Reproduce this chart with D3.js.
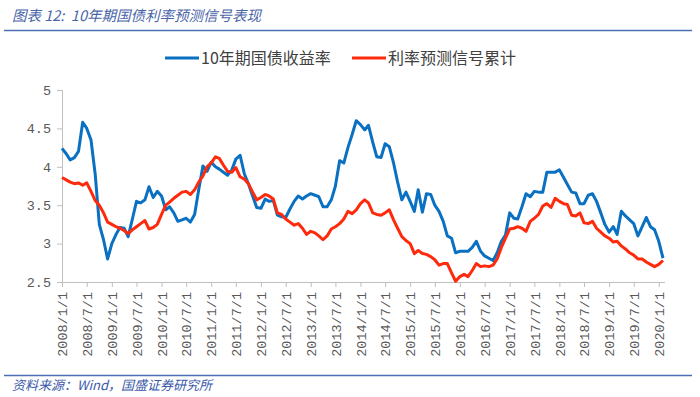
<!DOCTYPE html>
<html>
<head>
<meta charset="utf-8">
<script src="https://cdn.jsdelivr.net/npm/d3@7"></script>
<style>
  body { margin: 0; background: #fff; }
  svg { font-family: "Noto Sans CJK SC", "Noto Sans", sans-serif; }
  .axis text { font-family: "Liberation Mono", monospace; font-size: 13.5px; fill: #595959; }
</style>
</head>
<body>
<svg id="chart" width="700" height="397"></svg>
<script>
// 月度数据 2008/1 - 2020/2
const months = d3.timeMonth.range(new Date(2008, 0, 1), new Date(2020, 2, 1));

const bondYield = [
  4.24, 4.17, 4.09, 4.12, 4.20, 4.58, 4.50, 4.35, 3.90, 3.25, 3.05, 2.80,
  3.00, 3.12, 3.21, 3.20, 3.09, 3.32, 3.55, 3.53, 3.57, 3.74, 3.60, 3.68,
  3.62, 3.44, 3.48, 3.40, 3.29, 3.31, 3.33, 3.28, 3.38, 3.70, 4.01, 3.94,
  4.06, 4.00, 3.97, 3.93, 3.89, 3.96, 4.10, 4.15, 3.91, 3.78, 3.62, 3.47,
  3.46, 3.58, 3.55, 3.56, 3.37, 3.35, 3.34, 3.45, 3.55, 3.62, 3.58, 3.62,
  3.65, 3.63, 3.61, 3.48, 3.48, 3.57, 3.75, 4.08, 4.05, 4.25, 4.42, 4.60,
  4.55, 4.48, 4.54, 4.32, 4.13, 4.12, 4.30, 4.26, 4.05, 3.80, 3.57, 3.67,
  3.55, 3.42, 3.70, 3.41, 3.65, 3.64, 3.50, 3.42, 3.29, 3.10, 3.07, 2.88,
  2.90, 2.90, 2.90, 2.95, 3.03, 2.90, 2.84, 2.81, 2.78, 2.88, 3.03, 3.11,
  3.40, 3.33, 3.32, 3.48, 3.65, 3.61, 3.68, 3.67, 3.67, 3.93, 3.93, 3.93,
  3.96, 3.86, 3.77, 3.67, 3.66, 3.52, 3.52, 3.63, 3.65, 3.55, 3.40, 3.25,
  3.15, 3.22, 3.12, 3.42, 3.36, 3.31, 3.26, 3.10, 3.22, 3.34, 3.22, 3.18,
  3.03, 2.81
];

const signalCum = [
  3.86, 3.83, 3.80, 3.78, 3.79, 3.76, 3.79, 3.68, 3.56, 3.50, 3.40, 3.28,
  3.25, 3.22, 3.20, 3.17, 3.13, 3.18, 3.22, 3.26, 3.30, 3.19, 3.21, 3.25,
  3.38, 3.50, 3.54, 3.59, 3.63, 3.67, 3.68, 3.64, 3.70, 3.80, 3.88, 4.00,
  4.05, 4.13, 4.11, 4.02, 3.94, 3.93, 3.99, 3.87, 3.84, 3.78, 3.67, 3.57,
  3.60, 3.64, 3.62, 3.58, 3.40, 3.38, 3.32, 3.28, 3.24, 3.26, 3.20, 3.12,
  3.16, 3.14, 3.10, 3.05, 3.10, 3.19, 3.22, 3.26, 3.32, 3.42, 3.39, 3.44,
  3.52, 3.57, 3.53, 3.40, 3.38, 3.37, 3.40, 3.44, 3.31, 3.20, 3.09, 3.04,
  3.00, 2.87, 2.91, 2.87, 2.86, 2.83, 2.79, 2.72, 2.74, 2.74, 2.62, 2.51,
  2.57, 2.60, 2.57, 2.65, 2.74, 2.70, 2.71, 2.70, 2.72, 2.80, 2.95, 3.07,
  3.19, 3.20, 3.22, 3.20, 3.16, 3.29, 3.33, 3.38, 3.49, 3.52, 3.47, 3.59,
  3.55, 3.52, 3.51, 3.37, 3.36, 3.40, 3.27, 3.26, 3.29, 3.20, 3.15, 3.10,
  3.07, 3.02, 3.03, 2.97, 2.93, 2.88, 2.85, 2.80, 2.80, 2.76, 2.73, 2.70,
  2.73, 2.78
];

const yTicks = [2.5, 3, 3.5, 4, 4.5, 5];
const seriesNames = ["10年期国债收益率", "利率预测信号累计"];
const colors = ["#0a70c2", "#ff2a0c"];

const svg = d3.select("#chart");

const x = d3.scaleTime()
  .domain([months[0], months[months.length - 1]])
  .range([62, 663]);
const y = d3.scaleLinear().domain([2.5, 5]).range([282, 90]);

// 标题
svg.append("text")
  .attr("x", 12).attr("y", 21)
  .style("font-size", "14.5px")
  .style("font-style", "italic")
  .attr("fill", "#4a66a8")
  .text("图表 12:\u00a0\u00a010年期国债利率预测信号表现");

svg.append("line")
  .attr("x1", 4).attr("x2", 692).attr("y1", 30.5).attr("y2", 30.5)
  .attr("stroke", "#4a6fb5").attr("stroke-width", 1.5);

// 图例
const legendPos = [165, 352];
seriesNames.forEach((name, i) => {
  const g = svg.append("g").attr("transform", `translate(${legendPos[i]},58)`);
  g.append("line")
    .attr("x1", 0).attr("x2", 34).attr("y1", 0).attr("y2", 0)
    .attr("stroke", colors[i]).attr("stroke-width", 3);
  g.append("text")
    .attr("x", 36).attr("y", 5.5)
    .style("font-size", "16px")
    .attr("fill", "#404040")
    .text(name);
});

// 坐标轴
const yAxis = d3.axisLeft(y)
  .tickValues(yTicks)
  .tickSize(5)
  .tickPadding(6)
  .tickFormat(d => (d % 1 ? d.toFixed(1) : d));

const gy = svg.append("g").attr("class", "axis").attr("transform", "translate(62,0)").call(yAxis);
gy.select(".domain").attr("stroke", "#bfbfbf");
gy.selectAll(".tick line").attr("stroke", "#bfbfbf");

const xTicks = d3.timeMonth.every(6).range(months[0], new Date(2020, 1, 1));
const xAxis = d3.axisBottom(x)
  .tickValues(xTicks)
  .tickSize(5)
  .tickSizeOuter(0)
  .tickFormat(d3.timeFormat("%Y/%-m/%-d"));

const gx = svg.append("g").attr("class", "axis").attr("transform", "translate(0,282)").call(xAxis);
gx.select(".domain").attr("stroke", "#bfbfbf").attr("d", "M62,0.5H665");
gx.selectAll(".tick line").attr("stroke", "#bfbfbf");
gx.selectAll(".tick text")
  .attr("text-anchor", "end")
  .attr("transform", "rotate(-90)")
  .attr("x", -10)
  .attr("y", 0)
  .attr("dy", "0.35em");

// 折线
const line = d3.line()
  .x((d, i) => x(months[i]))
  .y(d => y(d));

[bondYield, signalCum].forEach((series, i) => {
  svg.append("path")
    .datum(series)
    .attr("fill", "none")
    .attr("stroke", colors[i])
    .attr("stroke-width", 3)
    .attr("stroke-linejoin", "round")
    .attr("d", line);
});

// 资料来源
svg.append("line")
  .attr("x1", 4).attr("x2", 692).attr("y1", 375.5).attr("y2", 375.5)
  .attr("stroke", "#4a6fb5").attr("stroke-width", 1.5);

svg.append("text")
  .attr("x", 12).attr("y", 390)
  .style("font-size", "13px")
  .style("font-style", "italic")
  .attr("fill", "#3b5aa8")
  .text("资料来源：Wind，国盛证券研究所");
</script>
</body>
</html>
